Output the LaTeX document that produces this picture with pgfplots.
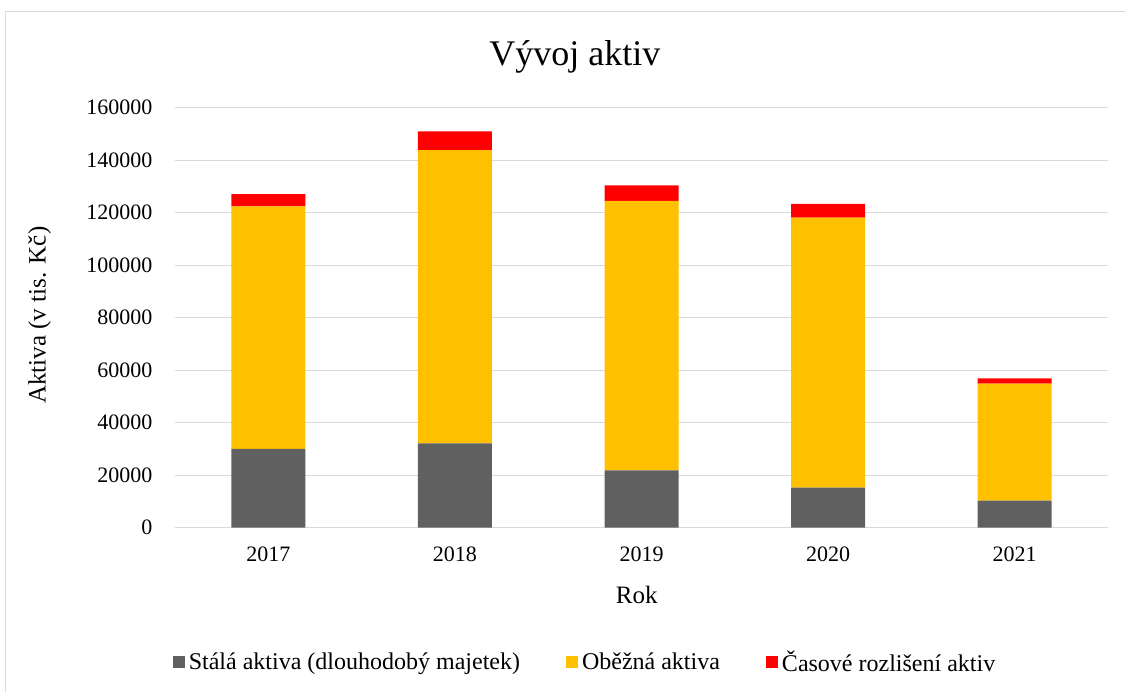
\documentclass[border=0pt]{standalone}
\usepackage{pgfplots}
\pgfplotsset{compat=1.18}
\usepackage{fontspec}
\setmainfont{Liberation Serif}
\definecolor{cgray}{HTML}{606060}
\definecolor{corange}{HTML}{FFC000}
\definecolor{cred}{HTML}{FF0000}
\definecolor{cgrid}{HTML}{D9D9D9}
\begin{document}
\begin{tikzpicture}[x=1pt,y=1pt]
\useasboundingbox (0,0) rectangle (1125,692);
\draw[cgrid, line width=1pt] (5,0) -- (5,680) -- (1125,680);
\begin{axis}[
  at={(175pt,164.3pt)}, anchor=south west,
  scale only axis, width=933pt, height=420pt,
  ybar stacked, bar width=74pt,
  xmin=-0.5, xmax=4.5, ymin=0, ymax=160000,
  xtick=data, xticklabels={2017,2018,2019,2020,2021},
  ytick={0,20000,40000,60000,80000,100000,120000,140000,160000},
  scaled y ticks=false,
  /pgf/number format/.cd, fixed, 1000 sep={}, assume math mode=true,
  /pgfplots/.cd,
  ymajorgrids, grid style={cgrid, line width=1.2pt},
  axis line style={draw=none},
  major tick length=0pt,
  tick label style={font=\fontsize{22}{25}\selectfont, text=black},
  xticklabel style={yshift=-16pt},
  yticklabel style={xshift=-19pt},
  title={Vývoj aktiv},
  title style={font=\fontsize{36}{40}\selectfont, at={(axis description cs:0.4287,1.1065)}, anchor=center},
  xlabel={Rok},
  xlabel style={font=\fontsize{25}{28}\selectfont, at={(axis description cs:0.495,-0.160)}, anchor=center},
  ylabel={Aktiva (v tis. Kč)},
  ylabel style={font=\fontsize{25}{28}\selectfont, at={(axis description cs:-0.145,0.506)}, anchor=center},
  legend columns=3,
  legend style={draw=none, fill=none, font=\fontsize{24}{27}\selectfont,
    at={(axis description cs:0.4395,-0.32)}, anchor=center,
    /tikz/every odd column/.append style={column sep=2pt},
    /tikz/every even column/.append style={column sep=44pt}},
  legend image code/.code={\fill[#1] (0pt,-6pt) rectangle (12pt,6pt);},
]
\addplot[fill=cgray, draw=none] coordinates {(0,30000) (1,32150) (2,21870) (3,15240) (4,10290)};
\addplot[fill=corange, draw=none] coordinates {(0,92450) (1,111650) (2,102600) (3,102870) (4,44570)};
\addplot[fill=cred, draw=none] coordinates {(0,4650) (1,7200) (2,5980) (3,5220) (4,2060)};
\legend{Stálá aktiva (dlouhodobý majetek), Oběžná aktiva, Časové rozlišení aktiv}
\end{axis}
\end{tikzpicture}
\end{document}
